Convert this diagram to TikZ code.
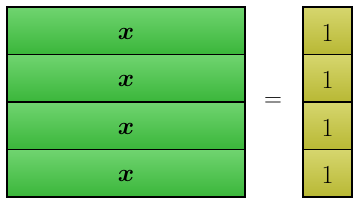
\documentclass[tikz,border=0pt]{standalone}
\usepackage{amsmath}
\usepackage{tikz}

\definecolor{bartop}{RGB}{112,212,112}
\definecolor{barbot}{RGB}{58,182,58}
\definecolor{unittop}{RGB}{214,214,110}
\definecolor{unitbot}{RGB}{184,184,52}

\begin{document}
\begin{tikzpicture}[x=1pt,y=1pt,
    bar/.style={draw=black,line width=1.6pt,top color=bartop,bottom color=barbot,
      minimum width=238pt,minimum height=47.5pt,inner sep=0pt},
    unit/.style={draw=black,line width=1.6pt,top color=unittop,bottom color=unitbot,
      minimum width=49pt,minimum height=47.5pt,inner sep=0pt},
    sign/.style={font=\fontsize{28}{28}\selectfont\boldmath,inner sep=0pt}]

  \useasboundingbox (0,0) rectangle (360,205);

  % --- the four bars, each x ---
  \foreach \i in {1,...,4} {
    \node[bar] (bar\i) at (126,221.75-47.5*\i) {};
    \node[sign,yshift=-3pt] (x\i) at (bar\i) {$x$};
  }

  % --- the four unit boxes, each 1 ---
  \foreach \i in {1,...,4} {
    \node[unit] (unit\i) at (327.5,221.75-47.5*\i) {};
    \node[sign,yshift=-2pt,font=\fontsize{26}{26}\selectfont] (one\i) at (unit\i) {1};
  }

  % --- the equals sign between them ---
  \node[font=\fontsize{24}{24}\selectfont] (eq) at (273,103) {$=$};
\end{tikzpicture}
\end{document}
